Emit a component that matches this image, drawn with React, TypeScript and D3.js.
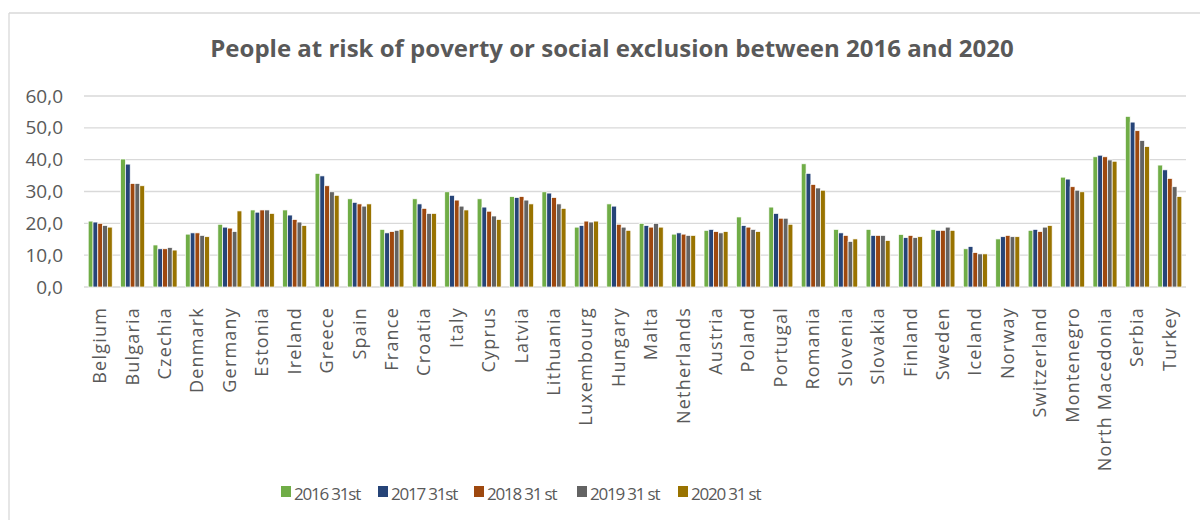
import React from "react";
import * as d3 from "d3";

const countries = ["Belgium","Bulgaria","Czechia","Denmark","Germany","Estonia","Ireland","Greece","Spain","France","Croatia","Italy","Cyprus","Latvia","Lithuania","Luxembourg","Hungary","Malta","Netherlands","Austria","Poland","Portugal","Romania","Slovenia","Slovakia","Finland","Sweden","Iceland","Norway","Switzerland","Montenegro","North Macedonia","Serbia","Turkey"];

const seriesNames = ["2016 31st","2017 31st","2018 31 st","2019 31 st","2020 31 st"];
const seriesColors = ["#70AD47","#264478","#9E480E","#636363","#997300"];

const v2016 = [20.7,40.2,13.2,16.6,19.7,24.2,24.2,35.7,27.7,18.1,27.7,29.9,27.7,28.4,29.9,18.8,26.1,20.0,16.6,17.8,22.0,25.1,38.7,18.1,18.1,16.5,18.1,12.0,15.1,17.8,34.5,40.9,53.6,38.3];
const v2017 = [20.4,38.6,12.0,17.0,18.8,23.5,22.6,34.9,26.6,17.0,26.1,28.8,25.1,28.1,29.5,19.3,25.4,19.3,17.0,18.1,19.3,23.1,35.7,17.0,16.2,15.5,17.8,12.7,15.8,18.1,33.9,41.4,51.8,36.8];
const v2018 = [20.0,32.5,12.0,17.0,18.5,24.2,21.2,31.8,26.1,17.4,24.7,27.3,23.8,28.4,28.1,20.7,19.7,18.8,16.6,17.4,18.8,21.6,32.2,16.2,16.2,16.2,17.8,10.8,16.2,17.4,31.5,40.9,49.1,34.1];
const v2019 = [19.3,32.5,12.4,16.2,17.4,24.2,20.4,29.9,25.4,17.8,23.1,25.4,22.3,27.3,26.1,20.4,18.8,20.0,16.2,17.0,18.1,21.6,31.1,14.3,16.2,15.5,18.8,10.4,15.8,18.8,30.4,39.9,46.0,31.5];
const v2020 = [18.8,31.8,11.6,15.8,23.9,23.1,19.3,28.8,26.1,18.1,23.1,24.2,21.2,26.1,24.7,20.7,17.8,18.8,16.2,17.4,17.4,19.7,30.4,15.1,14.6,15.8,17.8,10.4,15.8,19.3,29.9,39.5,44.1,28.4];
const seriesValues = [v2016, v2017, v2018, v2019, v2020];

const yTicks = [0,10,20,30,40,50,60];
const title = "People at risk of poverty or social exclusion between 2016 and 2020";

const W = 1200, H = 520;
const plotLeft = 84, plotRight = 1186, plotTop = 96, plotBottom = 287;
const font = "'Open Sans', sans-serif";
const textColor = "#595959";

export default function App() {
  const x = d3.scaleBand<string>().domain(countries).range([plotLeft, plotRight]).paddingInner(0.26).paddingOuter(0.13);
  const xi = d3.scaleBand<string>().domain(seriesNames).range([0, x.bandwidth()]);
  const y = d3.scaleLinear().domain([0, 60]).range([plotBottom, plotTop]);
  const fmt = (v: number) => d3.format(".1f")(v).replace(".", ",");

  const legendX = [281, 378, 474, 577, 678];

  return (
    <svg width={W} height={H} style={{ position: "absolute", left: 0, top: 0, background: "#fff" }}>
      <rect x={0} y={0} width={W} height={H} fill="#fff" />
      <line x1={9} y1={13} x2={W} y2={13} stroke="#d9d9d9" strokeWidth={1.3} />
      <line x1={9} y1={13} x2={9} y2={H} stroke="#d9d9d9" strokeWidth={1.3} />
      <text x={612} y={57} textAnchor="middle" fontFamily={font} fontWeight="bold" fontSize={24} fill={textColor}>{title}</text>
      {yTicks.map(t => (
        <g key={t}>
          <line x1={plotLeft} x2={plotRight} y1={y(t)} y2={y(t)} stroke="#d9d9d9" strokeWidth={1.3} />
          <text x={63} y={y(t) + 6.5} textAnchor="end" fontFamily={font} fontSize={19} fill={textColor}>{fmt(t)}</text>
        </g>
      ))}
      {countries.map((c, ci) => (
        <g key={c}>
          {seriesValues.map((vals, si) => (
            <rect key={si} x={(x(c) as number) + (xi(seriesNames[si]) as number)} y={y(vals[ci])}
              width={xi.bandwidth()} height={y(0) - y(vals[ci])} fill={seriesColors[si]} stroke="#fff" strokeWidth={0.7} />
          ))}
          <text transform={`translate(${(x(c) as number) + x.bandwidth() / 2 + 6},${plotBottom + 20}) rotate(-90)`}
            textAnchor="end" fontFamily={font} fontSize={18} letterSpacing={1.2} fill={textColor}>{c}</text>
        </g>
      ))}
      {seriesNames.map((s, i) => (
        <g key={s}>
          <rect x={legendX[i]} y={486} width={10} height={11} fill={seriesColors[i]} />
          <text x={legendX[i] + 13} y={499.5} fontFamily={font} fontSize={17} letterSpacing={-1.2} fill={textColor}>{s}</text>
        </g>
      ))}
    </svg>
  );
}
